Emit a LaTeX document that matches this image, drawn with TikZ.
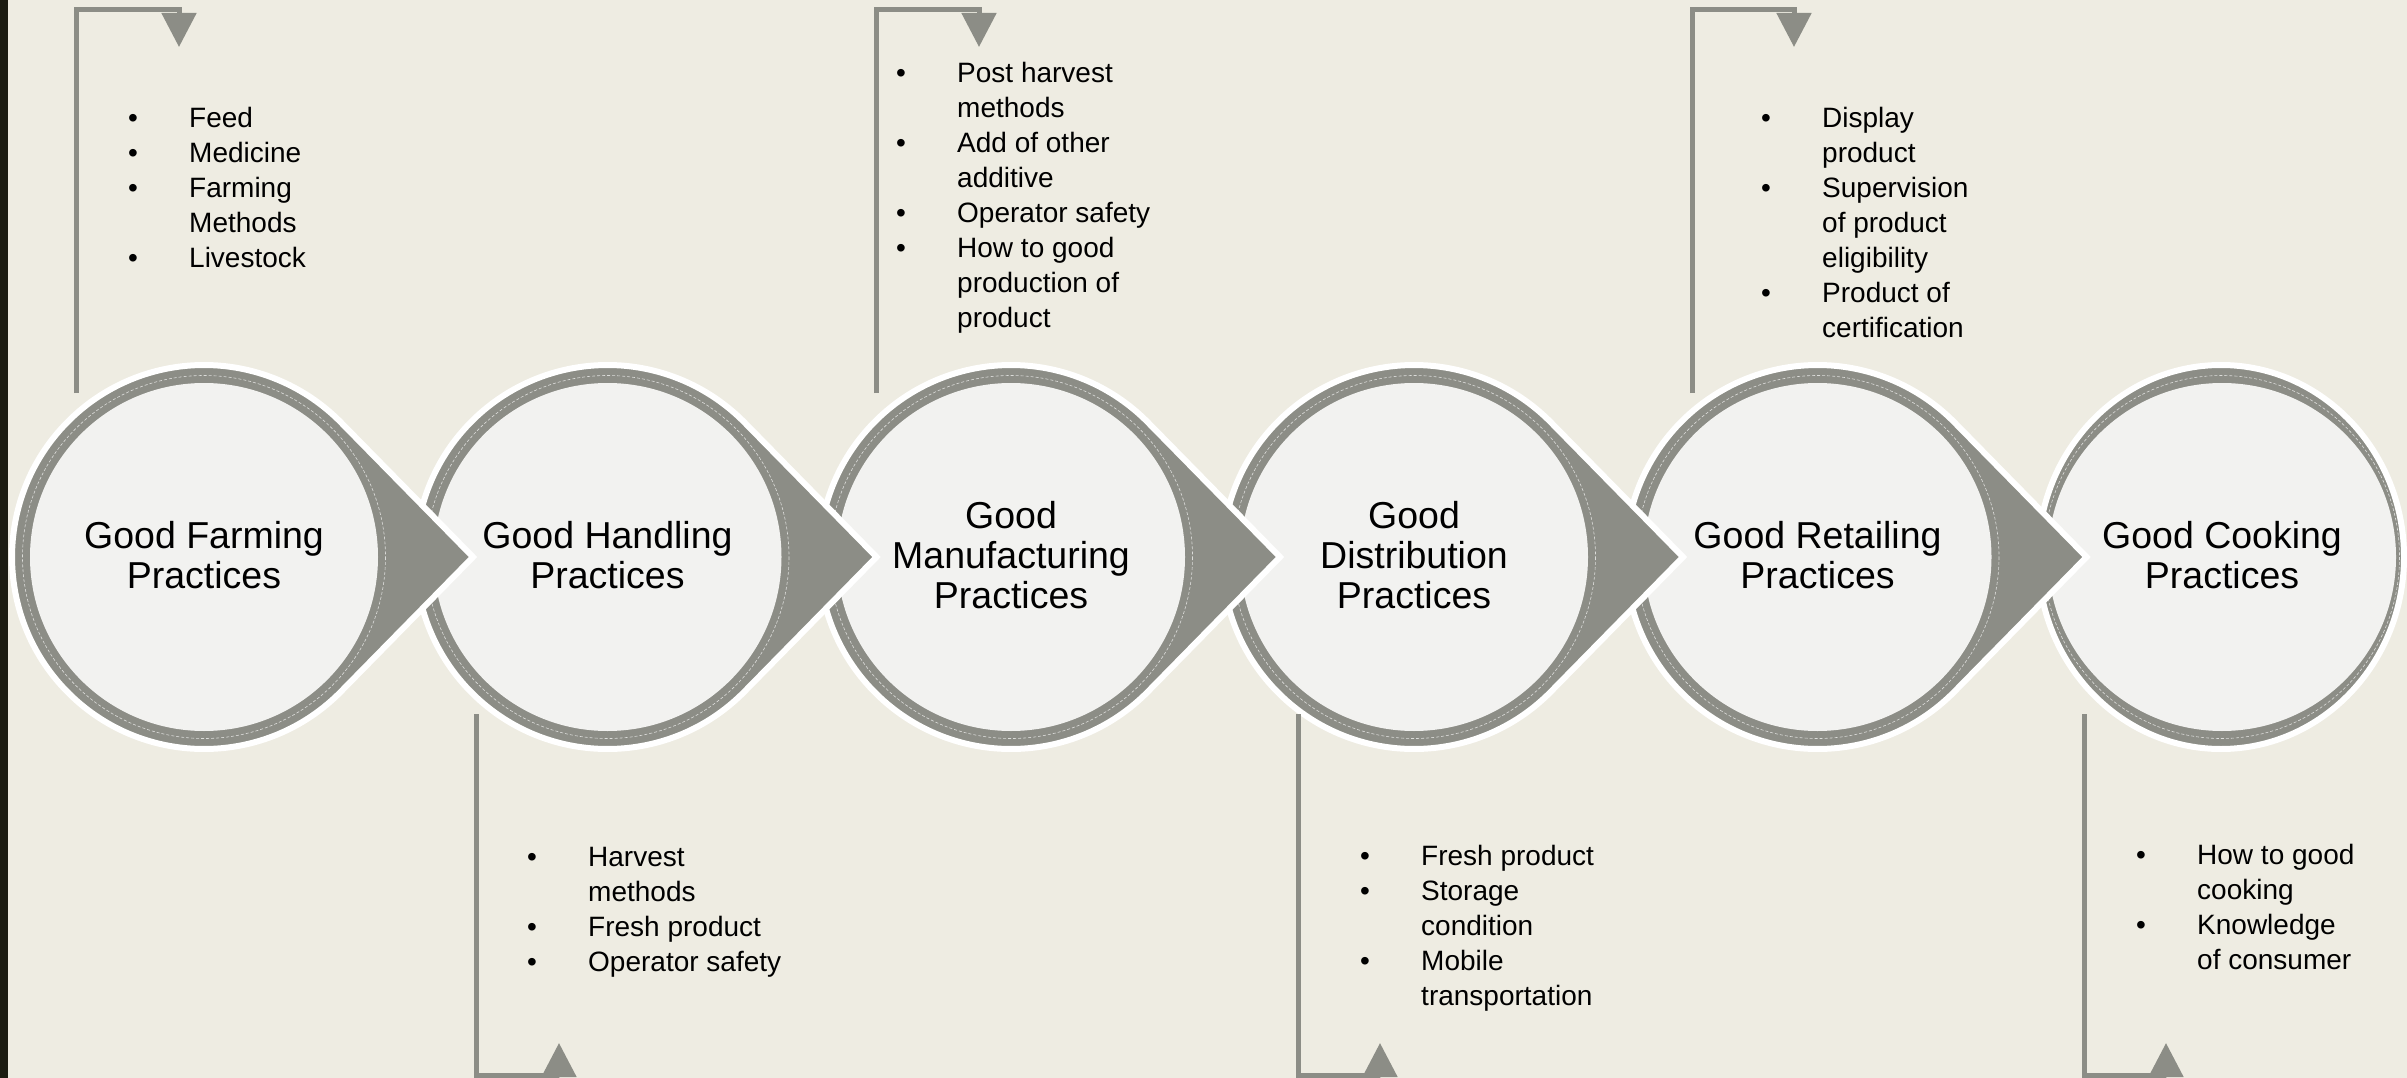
\documentclass[tikz,border=0pt]{standalone}
\usepackage{fontspec}
\setmainfont{Liberation Sans}
\usetikzlibrary{arrows.meta}

\definecolor{paper}{RGB}{238,236,226}
\definecolor{ring}{RGB}{140,141,134}
\definecolor{facefill}{RGB}{242,242,240}
\definecolor{edgebar}{RGB}{28,28,18}

\tikzset{
  drop/.style={fill=ring, draw=white, line width=6pt, line join=miter},
  face/.style={fill=facefill},
  seam/.style={draw=white, line width=0.6pt, dash pattern=on 3pt off 2pt, opacity=0.7},
  stage/.style={font=\fontsize{37.5}{40}\selectfont, align=center, inner sep=0pt},
  items/.style={font=\fontsize{28}{35}\selectfont, anchor=base west, inner sep=0pt},
  bracket/.style={draw=ring, line width=5pt, -{Triangle[length=34pt,width=34pt]}}
}

\begin{document}
\begin{tikzpicture}[x=1pt, y=-1pt]
% page and dark edge on the left
\fill[paper] (0,0) rectangle (2407,1078);
\fill[edgebar] (0,0) rectangle (8,1078);
\useasboundingbox (0,0) rectangle (2407,1078);

% the six stages, last one first so every point lies on top of the next disc
\draw[drop] (2221,557) ellipse[x radius=183, y radius=192];
\fill[face] (2222,557) circle[radius=174];
\draw[seam] (2221.5,557) ellipse[x radius=178, y radius=181.5];

\draw[drop] (2086.5,557) -- ++(-131.95,134.48) arc[start angle=44.46, end angle=315.54, radius=192] -- cycle;
\fill[face] (1817.5,557) circle[radius=174];
\draw[seam] (1817.5,557) circle[radius=181.5];

\draw[drop] (1683,557) -- ++(-131.95,134.48) arc[start angle=44.46, end angle=315.54, radius=192] -- cycle;
\fill[face] (1414,557) circle[radius=174];
\draw[seam] (1414,557) circle[radius=181.5];

\draw[drop] (1280,557) -- ++(-131.95,134.48) arc[start angle=44.46, end angle=315.54, radius=192] -- cycle;
\fill[face] (1011,557) circle[radius=174];
\draw[seam] (1011,557) circle[radius=181.5];

\draw[drop] (876.5,557) -- ++(-131.95,134.48) arc[start angle=44.46, end angle=315.54, radius=192] -- cycle;
\fill[face] (607.5,557) circle[radius=174];
\draw[seam] (607.5,557) circle[radius=181.5];

\draw[drop] (473,557) -- ++(-131.95,134.48) arc[start angle=44.46, end angle=315.54, radius=192] -- cycle;
\fill[face] (204,557) circle[radius=174];
\draw[seam] (204,557) circle[radius=181.5];

% stage names
\node[stage] (farm) at (204,555.5) {Good Farming\\Practices};
\node[stage] (handle) at (607.5,555.5) {Good Handling\\Practices};
\node[stage] (manuf) at (1011,555.5) {Good\\Manufacturing\\Practices};
\node[stage] (distrib) at (1414,555.5) {Good\\Distribution\\Practices};
\node[stage] (retail) at (1817.5,555.5) {Good Retailing\\Practices};
\node[stage] (cook) at (2222,555.5) {Good Cooking\\Practices};

% bent arrows, up over the odd stages and down under the even ones
\coordinate (farmfoot) at (76.5,393);
\coordinate (farmtip) at (179,47);
\draw[bracket] (farmfoot) -- ++(0,-383.5) -| (farmtip);
\coordinate (manuffoot) at (876.5,393);
\coordinate (manuftip) at (979,47);
\draw[bracket] (manuffoot) -- ++(0,-383.5) -| (manuftip);
\coordinate (retailfoot) at (1692,393);
\coordinate (retailtip) at (1794,47);
\draw[bracket] (retailfoot) -- ++(0,-383.5) -| (retailtip);
\coordinate (handlefoot) at (476.5,714);
\coordinate (handletip) at (559,1043);
\draw[bracket] (handlefoot) -- ++(0,361.5) -| (handletip);
\coordinate (distribfoot) at (1298,714);
\coordinate (distribtip) at (1380,1043);
\draw[bracket] (distribfoot) -- ++(0,361.5) -| (distribtip);
\coordinate (cookfoot) at (2084,714);
\coordinate (cooktip) at (2166,1043);
\draw[bracket] (cookfoot) -- ++(0,361.5) -| (cooktip);

% bullet lists
\node[items] (farmlist) at (128,128) {\begin{tabular}[t]{@{}p{61pt}@{}l@{}}
\textbullet & Feed\\
\textbullet & Medicine\\
\textbullet & Farming\\
 & Methods\\
\textbullet & Livestock
\end{tabular}};
\node[items] (handlelist) at (527,866) {\begin{tabular}[t]{@{}p{61pt}@{}l@{}}
\textbullet & Harvest\\
 & methods\\
\textbullet & Fresh product\\
\textbullet & Operator safety
\end{tabular}};
\node[items] (manuflist) at (896,83) {\begin{tabular}[t]{@{}p{61pt}@{}l@{}}
\textbullet & Post harvest\\
 & methods\\
\textbullet & Add of other\\
 & additive\\
\textbullet & Operator safety\\
\textbullet & How to good\\
 & production of\\
 & product
\end{tabular}};
\node[items] (distriblist) at (1360,865) {\begin{tabular}[t]{@{}p{61pt}@{}l@{}}
\textbullet & Fresh product\\
\textbullet & Storage\\
 & condition\\
\textbullet & Mobile\\
 & transportation
\end{tabular}};
\node[items] (retaillist) at (1761,128) {\begin{tabular}[t]{@{}p{61pt}@{}l@{}}
\textbullet & Display\\
 & product\\
\textbullet & Supervision\\
 & of product\\
 & eligibility\\
\textbullet & Product of\\
 & certification
\end{tabular}};
\node[items] (cooklist) at (2136,864) {\begin{tabular}[t]{@{}p{61pt}@{}l@{}}
\textbullet & How to good\\
 & cooking\\
\textbullet & Knowledge\\
 & of consumer
\end{tabular}};
\end{tikzpicture}
\end{document}
